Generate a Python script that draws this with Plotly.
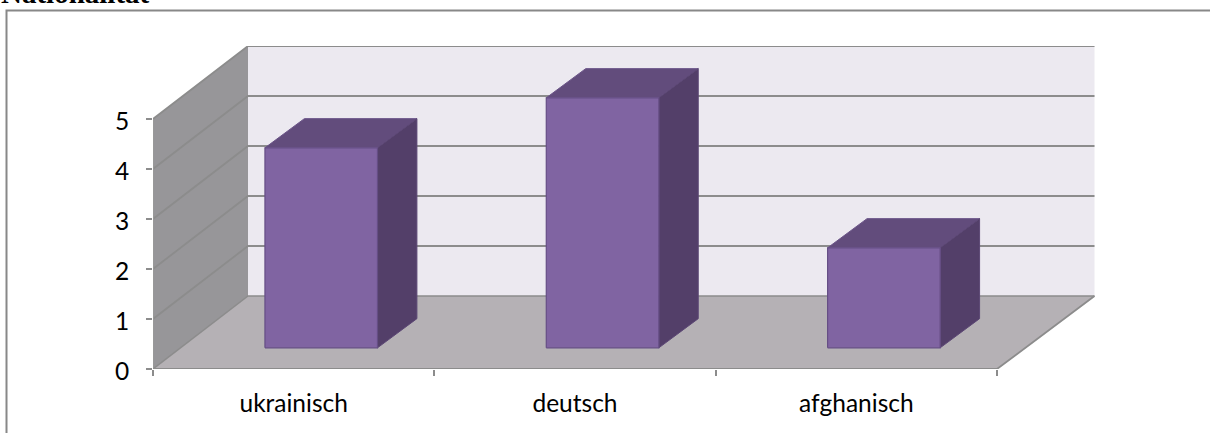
import plotly.graph_objects as go

# Data
categories = ["ukrainisch", "deutsch", "afghanisch"]
values = [4, 5, 2]
y_ticks = [0, 1, 2, 3, 4, 5]
title_text = "Nationalität"

# Oblique projection (in axis units)
W, H = 1210, 433
L, R, T, B = 153, 1096, 46, 369
PX_X = (997 - 153) / 3
PX_Y = 50
DX = 95 / PX_X
DX_R = 97.5 / PX_X
DY = 73 / PX_Y
BAR_W = 0.40
D0, D1, D1X = 0.29, 0.69, 0.705

GRID = "#8C8C8C"
n = len(categories)
fig = go.Figure()


def poly(pts, fill, line=None, lw=0):
    xs = [p[0] for p in pts] + [pts[0][0]]
    ys = [p[1] for p in pts] + [pts[0][1]]
    fig.add_trace(go.Scatter(
        x=xs, y=ys, mode="lines", fill="toself", fillcolor=fill,
        line=dict(color=line or fill, width=lw), hoverinfo="skip",
        showlegend=False, cliponaxis=False))


def seg(pts, color=GRID, lw=1.0):
    fig.add_trace(go.Scatter(
        x=[p[0] for p in pts], y=[p[1] for p in pts], mode="lines",
        line=dict(color=color, width=lw), hoverinfo="skip",
        showlegend=False, cliponaxis=False))


ymax = max(y_ticks)
# back wall, side wall, floor
poly([(DX, DY), (n + DX_R, DY), (n + DX_R, DY + ymax), (DX, DY + ymax)], "#ECE9F0")
poly([(0, 0), (DX, DY), (DX, DY + ymax), (0, ymax)], "#979699")
poly([(0, 0), (n, 0), (n + DX_R, DY), (DX, DY)], "#B5B1B5")
# gridlines
for t in y_ticks:
    seg([(0, t), (DX, DY + t), (n + DX_R, DY + t)], GRID, 1.8 if t else 1.5)
seg([(0, 0), (0, ymax)], "#9A9A9A", 1.5)
seg([(0, 0), (n, 0), (n + DX_R, DY)], GRID, 1.8)

# bars
for i, v in enumerate(values):
    x0 = i + 0.5 - BAR_W / 2 + D0 * DX
    x1 = x0 + BAR_W
    y0 = D0 * DY
    ddx = (D1X - D0) * DX
    ddy = (D1 - D0) * DY
    poly([(x0, y0 + v), (x1, y0 + v), (x1 + ddx, y0 + v + ddy), (x0 + ddx, y0 + v + ddy)],
         "#624C7C", "#6B5488", 1)
    poly([(x1, y0), (x1 + ddx, y0 + ddy), (x1 + ddx, y0 + v + ddy), (x1, y0 + v)],
         "#533F69", "#5C4775", 1)
    poly([(x0, y0), (x1, y0), (x1, y0 + v), (x0, y0 + v)],
         "#8064A2", "#654E85", 1.2)

# pixel position -> plot-area paper fraction
px = lambda x: (x - L) / (R - L)
py = lambda y: (B - y) / (B - T)

fig.update_layout(
    width=W, height=H, autosize=False,
    margin=dict(l=L, r=W - R, t=T, b=H - B, pad=0),
    paper_bgcolor="white", plot_bgcolor="white",
    font=dict(family="Lato", size=24, color="#000000"),
    showlegend=False,
    xaxis=dict(
        range=[0, (R - L) / PX_X], showgrid=False, zeroline=False, showline=False,
        tickmode="array", tickvals=[i + 0.5 for i in range(n)], ticktext=categories,
        ticks="", ticklabelstandoff=17, tickfont=dict(family="Lato", size=24.5),
        minor=dict(tickmode="array", tickvals=list(range(n + 1)), ticks="outside",
                   ticklen=6, tickwidth=1.5, tickcolor=GRID, showgrid=False),
    ),
    yaxis=dict(
        range=[0, (B - T) / PX_Y], showgrid=False, zeroline=False, showline=False,
        tickmode="array", tickvals=y_ticks, ticks="outside", ticklen=6,
        tickwidth=1.5, tickcolor=GRID, ticklabelstandoff=12, ticklabelshift=2,
        tickfont=dict(family="Lato", size=24.5),
    ),
    shapes=[dict(type="path", xref="paper", yref="paper",
                 path=f"M {px(6.5)} {py(433)} L {px(6.5)} {py(10.5)} L {px(1210)} {py(10.5)}",
                 line=dict(color="#888888", width=2))],
    annotations=[dict(text=f"<b>{title_text}</b>", xref="paper", yref="paper",
                      x=px(-1), y=py(11), xanchor="left", yanchor="bottom", showarrow=False,
                      font=dict(family="Liberation Serif", size=29, color="#000000"))],
)
fig.write_html("out.html", post_script="document.body.style.margin='0';",
               config={"displayModeBar": False})
